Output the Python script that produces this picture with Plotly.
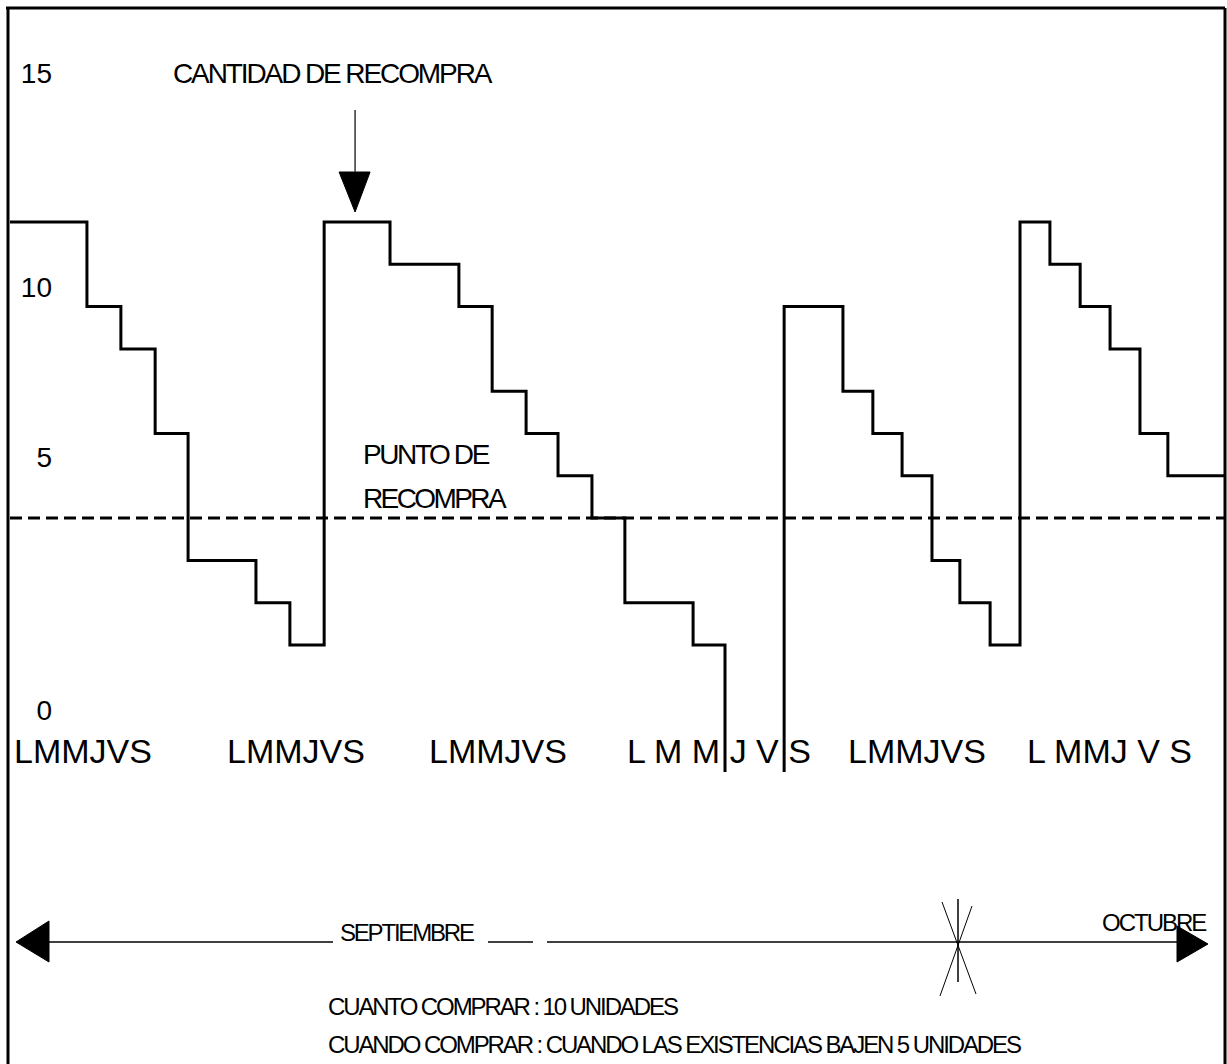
import plotly.graph_objects as go

# ---------------- data ----------------
# day position of each step start (days from the left edge) and stock level
day_x = [0, 2.29, 3.30, 4.32, 5.30, 7.32, 8.33, 9.35, 11.31, 13.36, 14.35, 15.36,
         16.31, 17.32, 18.30, 20.33, 21.28, None, 23.04, 23.04, 24.79, 25.68,
         26.55, 27.44, 28.27, 29.17, 30.06, 30.95, 31.85, 32.74, 33.63, 34.46, 36.19]
stock = [12, 10, 9, 7, 4, 3, 2, 12, 11, 10, 8, 7,
         6, 5, 3, 2, -1, None, -1, 10, 8, 7,
         6, 4, 3, 2, 12, 11, 10, 9, 7, 6, 6]
reorder_point = 5

week_labels = ["LMMJVS", "LMMJVS", "LMMJVS", "L M M J V S", "LMMJVS", "L MMJ V S"]
week_centers = [2.17, 8.51, 14.52, 21.10, 26.99, 32.71]
week_label_level = -0.5

y_tick_labels = ["0", "5", "10", "15"]
y_tick_pos = [0.46, 6.44, 10.46, 15.52]

month_labels = ["SEPTIEMBRE", "OCTUBRE"]
notes = ["CUANTO COMPRAR : 10 UNIDADES",
         "CUANDO COMPRAR : CUANDO LAS EXISTENCIAS BAJEN 5 UNIDADES"]

# ---------------- layout scale ----------------
W, H = 1227, 1064
DAY_PX, X0_PX = 33.6, 10.0
UNIT_PX, Y0_PX = 42.3, 729.6
x_range = [(0 - X0_PX) / DAY_PX, (W - X0_PX) / DAY_PX]
y_range = [(Y0_PX - H) / UNIT_PX, (Y0_PX - 0) / UNIT_PX]


def px(x):
    return x / W


def py(y):
    return 1 - y / H


ARIAL = "Liberation Sans, Arial, sans-serif"

fig = go.Figure()

fig.add_trace(go.Scatter(
    x=[day_x[0], day_x[-1]], y=[reorder_point, reorder_point], mode="lines",
    line=dict(color="black", width=3, dash="12px,6px"), hoverinfo="skip"))

fig.add_trace(go.Scatter(
    x=day_x, y=stock, mode="lines", connectgaps=False,
    line=dict(color="black", width=3, shape="hv"), hoverinfo="skip"))

shapes = []
# frame
for (xa, ya, xb, yb) in [(8, 8, 8, H + 5), (6, 8, 1225, 8), (1225, 8, 1225, H + 5)]:
    shapes.append(dict(type="line", xref="paper", yref="paper",
                       x0=px(xa), y0=py(ya), x1=px(xb), y1=py(yb),
                       line=dict(color="black", width=3)))

# arrow pointing at the order quantity peak
ax_anchor = (day_x[7] + day_x[8]) / 2
ay_anchor = stock[7]
shapes.append(dict(type="path", xref="x", yref="y", xsizemode="pixel", ysizemode="pixel",
                   xanchor=ax_anchor, yanchor=ay_anchor,
                   path="M -18,50 L 13,50 L -2,10 Z", fillcolor="black",
                   line=dict(color="black", width=1)))
shapes.append(dict(type="line", xref="x", yref="y", xsizemode="pixel", ysizemode="pixel",
                   xanchor=ax_anchor, yanchor=ay_anchor,
                   x0=-2, x1=-2, y0=50, y1=112, line=dict(color="#333", width=1.5)))

# timeline
for (xa, xb) in [(49, 333), (488, 533), (547, 1177)]:
    shapes.append(dict(type="line", xref="paper", yref="paper",
                       x0=px(xa), y0=py(942), x1=px(xb), y1=py(942),
                       line=dict(color="black", width=1.5)))
shapes.append(dict(type="path", xref="paper", yref="paper",
                   path=f"M {px(16)},{py(942)} L {px(49)},{py(921)} L {px(49)},{py(962)} Z",
                   fillcolor="black", line=dict(color="black", width=1)))
shapes.append(dict(type="path", xref="paper", yref="paper",
                   path=f"M {px(1208)},{py(944)} L {px(1177)},{py(926)} L {px(1177)},{py(962)} Z",
                   fillcolor="black", line=dict(color="black", width=1)))
# month boundary mark
for (xa, ya, xb, yb, w) in [(958, 899, 958, 982, 1.5), (942, 902, 976, 994, 1),
                            (972, 906, 940, 996, 1)]:
    shapes.append(dict(type="line", xref="paper", yref="paper",
                       x0=px(xa), y0=py(ya), x1=px(xb), y1=py(yb),
                       line=dict(color="black", width=w)))

annotations = []


def text(t, x, y, size, spacing, xanchor="left"):
    annotations.append(dict(text=f'<span style="letter-spacing:{spacing}px">{t}</span>',
                            xref="paper", yref="paper", x=px(x), y=py(y),
                            xanchor=xanchor, yanchor="middle", showarrow=False,
                            font=dict(size=size, family=ARIAL, color="black")))


text("CANTIDAD DE RECOMPRA", 171, 73, 28, -2.1)
text("PUNTO DE", 361, 454, 28, -2.4)
text("RECOMPRA", 361, 498, 28, -2.6)
text(month_labels[0], 338, 932, 24, -2.2)
text(month_labels[1], 1100, 922, 24, -2.0)
text(notes[0], 326, 1006, 24, -2.1)
text(notes[1], 326, 1044, 24, -2.1)

for lab, c in zip(week_labels, week_centers):
    annotations.append(dict(text=lab, x=c, y=week_label_level, xref="x", yref="y",
                            xanchor="center", yanchor="middle", showarrow=False,
                            font=dict(size=34, family=ARIAL, color="black")))

fig.update_layout(
    width=W, height=H, margin=dict(l=0, r=0, t=0, b=0),
    paper_bgcolor="white", plot_bgcolor="white", showlegend=False,
    hovermode=False,
    xaxis=dict(range=x_range, visible=False, domain=[0, 1]),
    yaxis=dict(range=y_range, domain=[0, 1], anchor="free", position=px(52),
               tickvals=y_tick_pos, ticktext=y_tick_labels, ticks="",
               showgrid=False, zeroline=False, showline=False,
               tickfont=dict(size=28, family=ARIAL, color="black")),
    shapes=shapes, annotations=annotations,
)

fig.write_html("out.html", config={"displayModeBar": False},
               post_script="document.body.style.margin='0';document.body.style.overflow='hidden';")
